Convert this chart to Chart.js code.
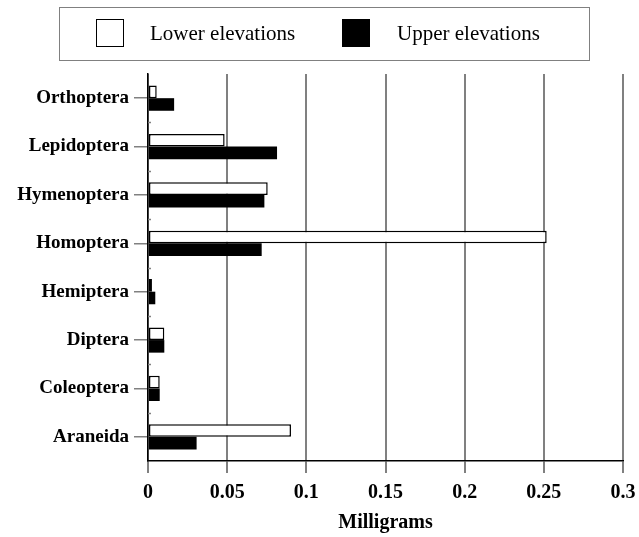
<!DOCTYPE html>
<html>
<head>
<meta charset="utf-8">
<script src="https://cdn.jsdelivr.net/npm/chart.js@4"></script>
<style>
  html, body { margin: 0; padding: 0; background: #fff; }
  #wrap { position: relative; width: 639px; height: 537px; }
  #legend {
    position: absolute; left: 59px; top: 7px; width: 531px; height: 54px;
    border: 1px solid #808080; box-sizing: border-box;
    font-family: "Liberation Serif", "Times New Roman", serif; font-size: 21px; color: #000;
  }
  #legend .box { position: absolute; top: 11px; width: 28px; height: 28px; border: 1px solid #000; box-sizing: border-box; }
  #legend .txt { position: absolute; top: 13px; line-height: 24px; white-space: nowrap; }
</style>
</head>
<body>
<div id="wrap">
  <canvas id="chart" width="639" height="537"></canvas>
  <div id="legend">
    <div class="box" style="left:36px;background:#fff"></div>
    <div class="txt" style="left:90px">Lower elevations</div>
    <div class="box" style="left:282px;background:#000"></div>
    <div class="txt" style="left:337px">Upper elevations</div>
  </div>
</div>
<script>
// Insect orders (top to bottom)
const orders = ['Orthoptera', 'Lepidoptera', 'Hymenoptera', 'Homoptera', 'Hemiptera', 'Diptera', 'Coleoptera', 'Araneida'];

// Milligrams
const lowerElevations = [0.0055, 0.0484, 0.0756, 0.2518, 0.0025, 0.0103, 0.0074, 0.0903];
const upperElevations = [0.0165, 0.0815, 0.0735, 0.0718, 0.0046, 0.0103, 0.0074, 0.0307];

const xTicks = [0, 0.05, 0.1, 0.15, 0.2, 0.25, 0.3];

const serif = '"Liberation Serif", "Times New Roman", serif';

// small ticks on the inner side of the category axis, between categories
const boundaryTicks = {
    id: 'boundaryTicks',
    afterDraw(chart) {
        const y = chart.scales.y;
        const ctx = chart.ctx;
        ctx.save();
        ctx.strokeStyle = '#808080';
        ctx.lineWidth = 1.5;
        for (let i = 0; i < orders.length - 1; i++) {
            const py = Math.round(y.getPixelForValue(i + 0.5)) + 0.5;
            ctx.beginPath();
            ctx.moveTo(y.right, py);
            ctx.lineTo(y.right + 3, py);
            ctx.stroke();
        }
        ctx.restore();
    }
};

new Chart(document.getElementById('chart'), {
    type: 'bar',
    data: {
        labels: orders,
        datasets: [
            {
                label: 'Lower elevations',
                data: lowerElevations,
                backgroundColor: '#ffffff',
                borderColor: '#000000',
                borderWidth: 1.5,
                borderSkipped: false
            },
            {
                label: 'Upper elevations',
                data: upperElevations,
                backgroundColor: '#000000',
                borderColor: '#000000',
                borderWidth: 0
            }
        ]
    },
    plugins: [boundaryTicks],
    options: {
        indexAxis: 'y',
        responsive: false,
        animation: false,
        categoryPercentage: 0.52,
        barPercentage: 1,
        layout: { padding: { top: 74, right: 16, left: 0, bottom: 0 } },
        plugins: {
            legend: { display: false },
            tooltip: { enabled: false }
        },
        scales: {
            x: {
                min: 0,
                max: 0.3,
                afterBuildTicks: (scale) => {
                    scale.ticks = xTicks.map(v => ({ value: v }));
                },
                afterFit: (scale) => {
                    scale.height = 76;
                    scale.paddingRight = 0;
                },
                grid: {
                    color: '#808080',
                    lineWidth: 2,
                    tickLength: 12,
                    tickColor: '#808080'
                },
                border: { color: '#000', width: 1.5 },
                ticks: {
                    color: '#000',
                    font: { family: serif, size: 20, weight: 'bold' },
                    padding: 8,
                    callback: (v) => String(v)
                },
                title: {
                    display: true,
                    text: 'Milligrams',
                    color: '#000',
                    font: { family: serif, size: 20, weight: 'bold' },
                    padding: { top: 0, bottom: 2 }
                }
            },
            y: {
                afterFit: (scale) => { scale.width = 148; },
                grid: {
                    drawOnChartArea: false,
                    offset: false,
                    tickLength: 14,
                    tickColor: '#808080',
                    lineWidth: 1.5
                },
                border: { color: '#000', width: 1.5 },
                ticks: {
                    color: '#000',
                    font: { family: serif, size: 19, weight: 'bold' },
                    padding: 5
                }
            }
        }
    }
});
</script>
</body>
</html>
